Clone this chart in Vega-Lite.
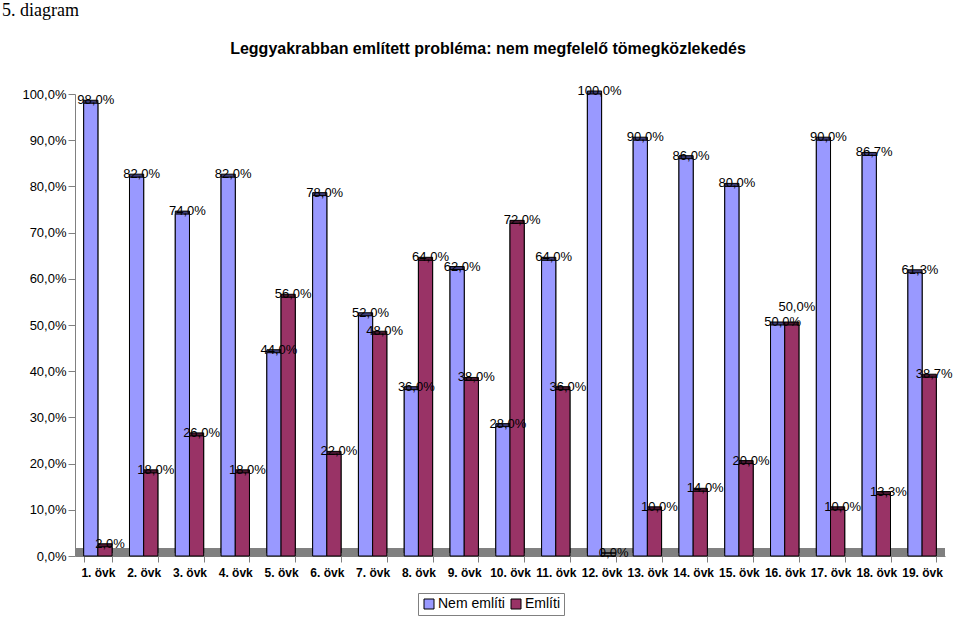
{
  "$schema": "https://vega.github.io/schema/vega-lite/v6.json",
  "background": "white",
  "padding": {"left": 2, "top": 2, "right": 8, "bottom": 0},
  "title": {"text": "5. diagram", "anchor": "start", "frame": "bounds", "font": "Liberation Serif", "fontSize": 18, "fontWeight": "normal", "color": "black", "dx": 0, "offset": 21},
  "data": {"values": [
    {"ovk": "1. övk", "series": "Nem említi", "value": 0.98}, {"ovk": "1. övk", "series": "Említi", "value": 0.02},
    {"ovk": "2. övk", "series": "Nem említi", "value": 0.82}, {"ovk": "2. övk", "series": "Említi", "value": 0.18},
    {"ovk": "3. övk", "series": "Nem említi", "value": 0.74}, {"ovk": "3. övk", "series": "Említi", "value": 0.26},
    {"ovk": "4. övk", "series": "Nem említi", "value": 0.82}, {"ovk": "4. övk", "series": "Említi", "value": 0.18},
    {"ovk": "5. övk", "series": "Nem említi", "value": 0.44}, {"ovk": "5. övk", "series": "Említi", "value": 0.56},
    {"ovk": "6. övk", "series": "Nem említi", "value": 0.78}, {"ovk": "6. övk", "series": "Említi", "value": 0.22},
    {"ovk": "7. övk", "series": "Nem említi", "value": 0.52}, {"ovk": "7. övk", "series": "Említi", "value": 0.48},
    {"ovk": "8. övk", "series": "Nem említi", "value": 0.36}, {"ovk": "8. övk", "series": "Említi", "value": 0.64},
    {"ovk": "9. övk", "series": "Nem említi", "value": 0.62}, {"ovk": "9. övk", "series": "Említi", "value": 0.38},
    {"ovk": "10. övk", "series": "Nem említi", "value": 0.28}, {"ovk": "10. övk", "series": "Említi", "value": 0.72},
    {"ovk": "11. övk", "series": "Nem említi", "value": 0.64}, {"ovk": "11. övk", "series": "Említi", "value": 0.36},
    {"ovk": "12. övk", "series": "Nem említi", "value": 1.0}, {"ovk": "12. övk", "series": "Említi", "value": 0.0},
    {"ovk": "13. övk", "series": "Nem említi", "value": 0.90}, {"ovk": "13. övk", "series": "Említi", "value": 0.10},
    {"ovk": "14. övk", "series": "Nem említi", "value": 0.86}, {"ovk": "14. övk", "series": "Említi", "value": 0.14},
    {"ovk": "15. övk", "series": "Nem említi", "value": 0.80}, {"ovk": "15. övk", "series": "Említi", "value": 0.20},
    {"ovk": "16. övk", "series": "Nem említi", "value": 0.50}, {"ovk": "16. övk", "series": "Említi", "value": 0.50},
    {"ovk": "17. övk", "series": "Nem említi", "value": 0.90}, {"ovk": "17. övk", "series": "Említi", "value": 0.10},
    {"ovk": "18. övk", "series": "Nem említi", "value": 0.867}, {"ovk": "18. övk", "series": "Említi", "value": 0.133},
    {"ovk": "19. övk", "series": "Nem említi", "value": 0.613}, {"ovk": "19. övk", "series": "Említi", "value": 0.387}
  ]},
  "vconcat": [{
    "width": 870,
    "height": 462,
    "title": {"text": "Leggyakrabban említett probléma: nem megfelelő tömegközlekedés", "anchor": "middle", "font": "Liberation Sans", "fontSize": 16, "fontWeight": "bold", "color": "black", "offset": 28, "dx": -22},
    "encoding": {
      "x": {"field": "ovk", "type": "nominal", "sort": null,
        "scale": {"paddingInner": 0.38, "paddingOuter": 0.19},
        "axis": {"title": null, "labelAngle": 0, "labelFont": "Liberation Sans", "labelFontSize": 12, "labelFontWeight": "bold", "labelColor": "black", "tickBand": "extent", "tickSize": 6, "tickColor": "#808080", "domainColor": "#808080", "labelPadding": 5}}
    },
    "layer": [
      {
        "mark": {"type": "rect", "color": "#808080"},
        "encoding": {"x": null, "y": {"datum": 0, "type": "quantitative", "scale": {"domain": [0, 1]}}, "y2": {"datum": 0.016}}
      },
      {
        "mark": {"type": "bar", "xOffset": 8, "yOffset": -3, "stroke": "black", "strokeWidth": 1},
        "encoding": {
          "xOffset": {"field": "series", "type": "nominal", "sort": ["Nem említi", "Említi"]},
          "y": {"field": "value", "type": "quantitative"},
          "fill": {"condition": {"test": "datum.series === 'Nem említi'", "value": "#3E3E7A"}, "value": "#4C1832"}
        }
      },
      {
        "mark": {"type": "bar", "xOffset": 3, "stroke": "black", "strokeWidth": 1},
        "encoding": {
          "xOffset": {"field": "series", "type": "nominal", "sort": ["Nem említi", "Említi"]},
          "y": {"field": "value", "type": "quantitative",
            "scale": {"domain": [0, 1]},
            "axis": {"title": null, "format": ".1%", "values": [0, 0.1, 0.2, 0.3, 0.4, 0.5, 0.6, 0.7, 0.8, 0.9, 1.0], "labelFont": "Liberation Sans", "labelFontSize": 13, "labelColor": "black", "tickSize": 7, "tickColor": "#808080", "domainColor": "#808080", "gridColor": "#BFBFBF", "labelPadding": 2, "minExtent": 73}},
          "color": {"field": "series", "type": "nominal", "sort": ["Nem említi", "Említi"],
            "scale": {"domain": ["Nem említi", "Említi"], "range": ["#9999FF", "#993366"]},
            "legend": {"title": null, "orient": "none", "legendX": 343, "legendY": 499, "direction": "horizontal", "strokeColor": "#808080", "fillColor": "white", "padding": 4, "symbolType": "square", "symbolSize": 100, "symbolStrokeColor": "black", "symbolStrokeWidth": 1, "symbolOpacity": 1, "labelFont": "Liberation Sans", "labelFontSize": 14, "labelColor": "black", "columnPadding": 4, "labelOffset": 2}}
        }
      },
      {
        "transform": [{"filter": "!(datum.ovk === '16. övk' && datum.series === 'Említi')"}],
        "mark": {"type": "text", "font": "Liberation Sans", "fontSize": 13, "color": "black", "baseline": "middle", "align": "center", "dx": 5, "dy": -3},
        "encoding": {
          "xOffset": {"field": "series", "type": "nominal", "sort": ["Nem említi", "Említi"]},
          "y": {"field": "value", "type": "quantitative"},
          "text": {"field": "value", "type": "quantitative", "format": ".1%"}
        }
      },
      {
        "transform": [{"filter": "datum.ovk === '16. övk' && datum.series === 'Említi'"}],
        "mark": {"type": "text", "font": "Liberation Sans", "fontSize": 13, "color": "black", "baseline": "middle", "align": "center", "dx": 5, "dy": -18},
        "encoding": {
          "xOffset": {"field": "series", "type": "nominal", "sort": ["Nem említi", "Említi"]},
          "y": {"field": "value", "type": "quantitative"},
          "text": {"field": "value", "type": "quantitative", "format": ".1%"}
        }
      }
    ]
  }],
  "config": {
    "view": {"stroke": null},
    "font": "Liberation Sans",
    "locale": {"number": {"decimal": ",", "thousands": " ", "grouping": [3], "currency": ["", ""]}}
  }
}
